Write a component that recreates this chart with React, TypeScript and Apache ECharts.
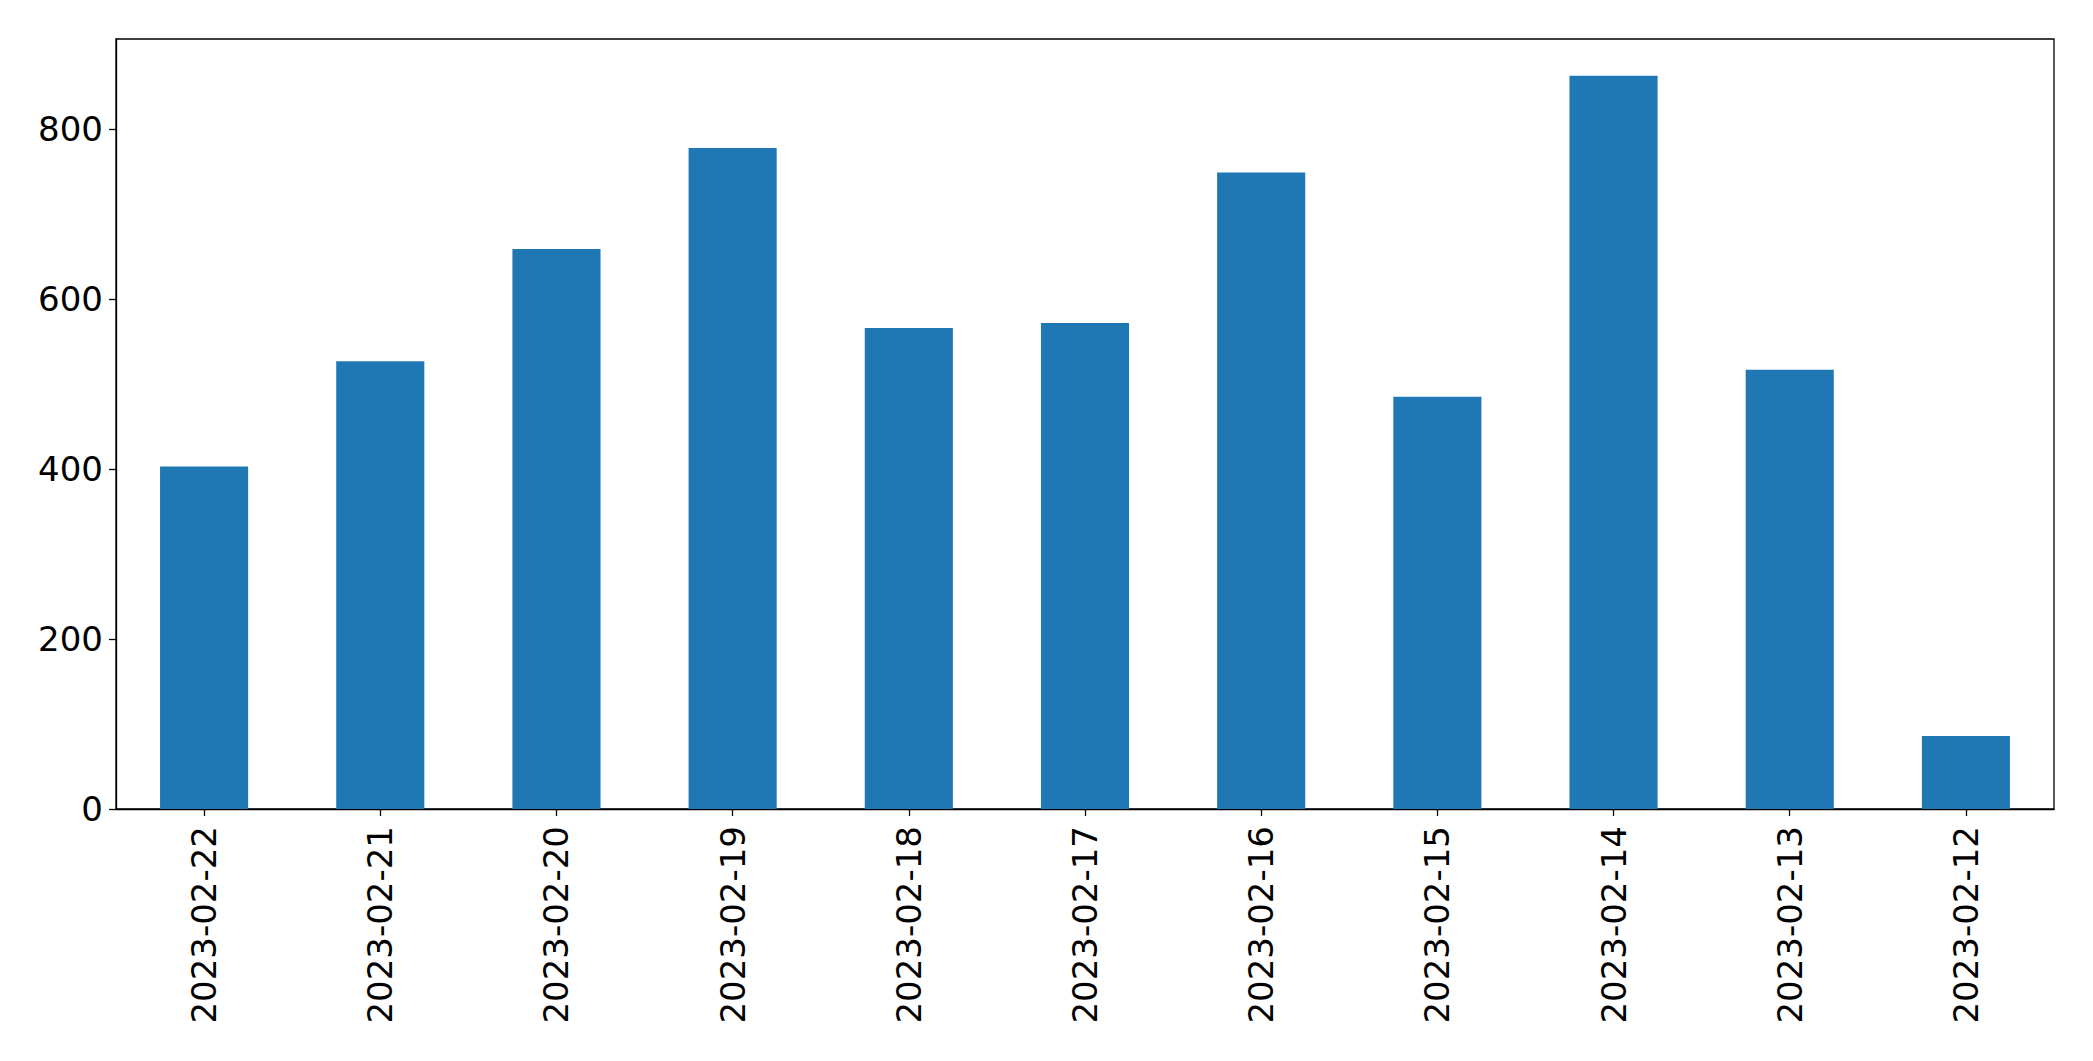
import React, { useEffect, useRef } from "react";
import * as echarts from "echarts";

const categories = [
  "2023-02-22",
  "2023-02-21",
  "2023-02-20",
  "2023-02-19",
  "2023-02-18",
  "2023-02-17",
  "2023-02-16",
  "2023-02-15",
  "2023-02-14",
  "2023-02-13",
  "2023-02-12",
];
const values = [403, 527, 659, 778, 566, 572, 749, 485, 863, 517, 86];
const yTicks = [0, 200, 400, 600, 800];

export default function App() {
  const ref = useRef<HTMLDivElement>(null);
  useEffect(() => {
    if (!ref.current) return;
    const chart = echarts.init(ref.current, null, { renderer: "svg" });
    const yMax = Math.max(...values) * 1.05;
    chart.setOption({
      animation: false,
      backgroundColor: "#ffffff",
      textStyle: { fontFamily: "DejaVu Sans" },
      grid: {
        left: 116,
        top: 39,
        width: 1938,
        height: 770,
        show: true,
        borderColor: "#000000",
        borderWidth: 1.3,
        backgroundColor: "transparent",
      },
      xAxis: {
        type: "category",
        data: categories,
        boundaryGap: true,
        axisLine: { show: true, lineStyle: { color: "#000000", width: 1.3 } },
        axisTick: {
          show: true,
          alignWithLabel: true,
          length: 7,
          lineStyle: { color: "#000000", width: 1.3 },
        },
        axisLabel: {
          rotate: 90,
          fontSize: 34,
          color: "#000000",
          fontFamily: "DejaVu Sans",
          margin: 17,
          interval: 0,
        },
        splitLine: { show: false },
      },
      yAxis: {
        type: "value",
        min: 0,
        max: yMax,
        axisLine: { show: true, lineStyle: { color: "#000000", width: 1.3 } },
        axisTick: {
          show: true,
          length: 7,
          customValues: yTicks,
          lineStyle: { color: "#000000", width: 1.3 },
        },
        axisLabel: {
          fontSize: 34,
          color: "#000000",
          fontFamily: "DejaVu Sans",
          margin: 13,
          customValues: yTicks,
        },
        splitLine: { show: false },
      },
      series: [
        {
          type: "bar",
          data: values,
          barWidth: "50%",
          itemStyle: { color: "#1f77b4" },
        },
      ],
    });
    return () => chart.dispose();
  }, []);
  return (
    <div
      ref={ref}
      style={{ position: "fixed", left: 0, top: 0, width: 2093, height: 1061, background: "#fff" }}
    />
  );
}
